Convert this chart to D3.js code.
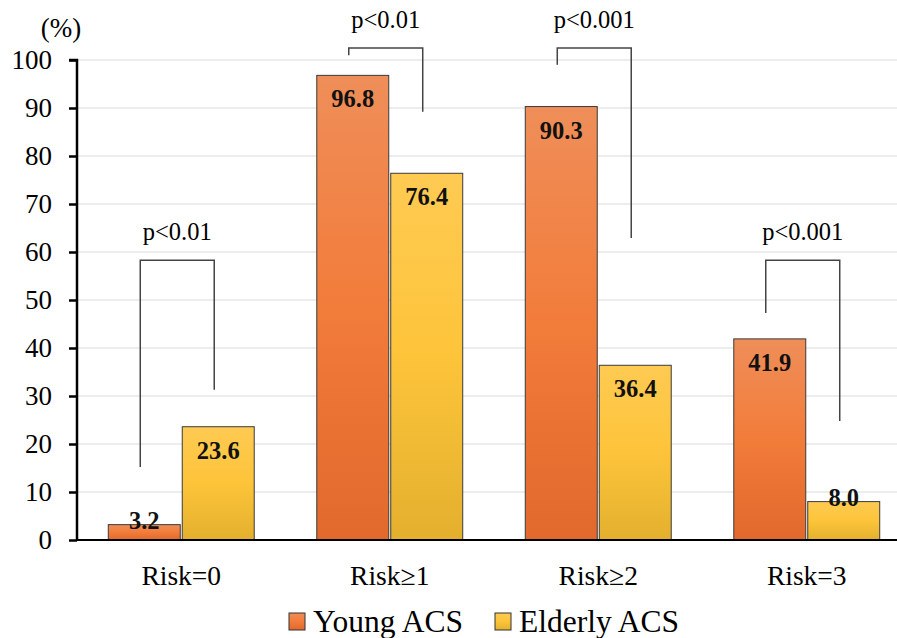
<!DOCTYPE html>
<html><head><meta charset="utf-8">
<script src="https://cdn.jsdelivr.net/npm/d3@7"></script>
<style>body{margin:0;background:#fff}svg{display:block}</style>
</head><body><svg id="c" width="897" height="638"></svg>
<script>
const categories = ["Risk=0", "Risk\u22651", "Risk\u22652", "Risk=3"];
const series = ["Young ACS", "Elderly ACS"];
const young = [3.2, 96.8, 90.3, 41.9];
const elderly = [23.6, 76.4, 36.4, 8.0];
const yTicks = [0,10,20,30,40,50,60,70,80,90,100];
const pLabels = ["p<0.01", "p<0.01", "p<0.001", "p<0.001"];
const bracketTop = [58.3, 102.5, 102.5, 58.3];
const bracketLeftEnd = [15.2, 101, 99, 47.3];
const bracketRightEnd = [31.3, 89.2, 62.9, 24.8];

const svg = d3.select("#c");
const font = "'Liberation Serif','Times New Roman',serif";
const y = d3.scaleLinear().domain([0,100]).range([540,60]);
const x0 = d3.scaleBand().domain(categories).range([77,911]).paddingInner(0.3).paddingOuter(0.15);
const x1 = d3.scaleBand().domain(series).range([0,x0.bandwidth()]).paddingInner(0.027);

const defs = svg.append("defs");
const gradY = defs.append("linearGradient").attr("id","gY").attr("x1",0).attr("y1",0).attr("x2",0).attr("y2",1);
gradY.append("stop").attr("offset","0%").attr("stop-color","#EF8E59");
gradY.append("stop").attr("offset","50%").attr("stop-color","#F27C3A");
gradY.append("stop").attr("offset","100%").attr("stop-color","#E1692C");
const gradE = defs.append("linearGradient").attr("id","gE").attr("x1",0).attr("y1",0).attr("x2",0).attr("y2",1);
gradE.append("stop").attr("offset","0%").attr("stop-color","#FECA52");
gradE.append("stop").attr("offset","50%").attr("stop-color","#FDC43A");
gradE.append("stop").attr("offset","100%").attr("stop-color","#E3B02E");
const fills = {"Young ACS":"url(#gY)","Elderly ACS":"url(#gE)"};

// gridlines
svg.append("g").selectAll("line").data(yTicks.filter(t=>t>0)).join("line")
  .attr("x1",77).attr("x2",897).attr("y1",d=>y(d)).attr("y2",d=>y(d))
  .attr("stroke","#DCDCDC").attr("stroke-width",1.2);

// bars
const data = categories.map((c,i)=>({cat:c, vals:[{s:series[0],v:young[i]},{s:series[1],v:elderly[i]}]}));
const g = svg.append("g").selectAll("g").data(data).join("g")
  .attr("transform",d=>`translate(${x0(d.cat)},0)`);
g.selectAll("rect").data(d=>d.vals).join("rect")
  .attr("x",d=>x1(d.s)).attr("width",x1.bandwidth())
  .attr("y",d=>y(d.v)).attr("height",d=>y(0)-y(d.v))
  .attr("fill",d=>fills[d.s]).attr("stroke","#3a3a3a").attr("stroke-width",1);
g.selectAll("text.v").data(d=>d.vals).join("text").attr("class","v")
  .attr("x",d=>x1(d.s)+x1.bandwidth()/2)
  .attr("y",d=> d.v<10 ? y(d.v)+4 : y(d.v)+32)
  .attr("text-anchor","middle").style("font-family",font).style("font-weight","bold")
  .style("font-size","24.5px").attr("fill","#111").text(d=>d.v.toFixed(1));

// axes
const yAxis = d3.axisLeft(y).tickValues(yTicks).tickSize(8).tickPadding(17);
const ya = svg.append("g").attr("transform","translate(77,0)").call(yAxis);
ya.select(".domain").attr("stroke","#000").attr("stroke-width",2.5).attr("d","M-8,60H0V540");
ya.selectAll(".tick line").attr("stroke","#000").attr("stroke-width",2.5);
ya.selectAll(".tick text").style("font-family",font).style("font-size","27px").attr("fill","#000").attr("dy","0.33em");
svg.append("line").attr("x1",76).attr("x2",897).attr("y1",540).attr("y2",540).attr("stroke","#000").attr("stroke-width",2);
svg.append("text").attr("x",61).attr("y",37).attr("text-anchor","middle").style("font-family",font).style("font-size","27px").text("(%)");

const xa = svg.append("g").attr("transform","translate(0,540)").call(d3.axisBottom(x0).tickSize(0));
xa.select(".domain").remove();
xa.selectAll(".tick text").attr("y",45).attr("dy",0).style("font-family",font).style("font-size","27.5px").attr("fill","#000");

// brackets
const off = -4;
categories.forEach((c,i)=>{
  const xl = x0(c)+x1(series[0])+x1.bandwidth()/2+off;
  const xr = x0(c)+x1(series[1])+x1.bandwidth()/2+off;
  svg.append("path").attr("d",`M${xl},${y(bracketLeftEnd[i])}V${y(bracketTop[i])}H${xr}V${y(bracketRightEnd[i])}`)
    .attr("fill","none").attr("stroke","#444").attr("stroke-width",1.5);
  svg.append("text").attr("x",(xl+xr)/2).attr("y",y(bracketTop[i])-20).attr("text-anchor","middle")
    .style("font-family",font).style("font-size","24.5px").attr("fill","#000").text(pLabels[i]);
});

// legend
const leg = svg.append("g");
const legX = [289, 495];
series.forEach((s,i)=>{
  leg.append("rect").attr("x",legX[i]).attr("y",613).attr("width",16).attr("height",17)
    .attr("fill",fills[s]).attr("stroke","#333").attr("stroke-width",1);
  leg.append("text").attr("x",legX[i]+24).attr("y",632).style("font-family",font).style("font-size","31.5px").attr("fill","#000").text(s);
});
</script></body></html>
